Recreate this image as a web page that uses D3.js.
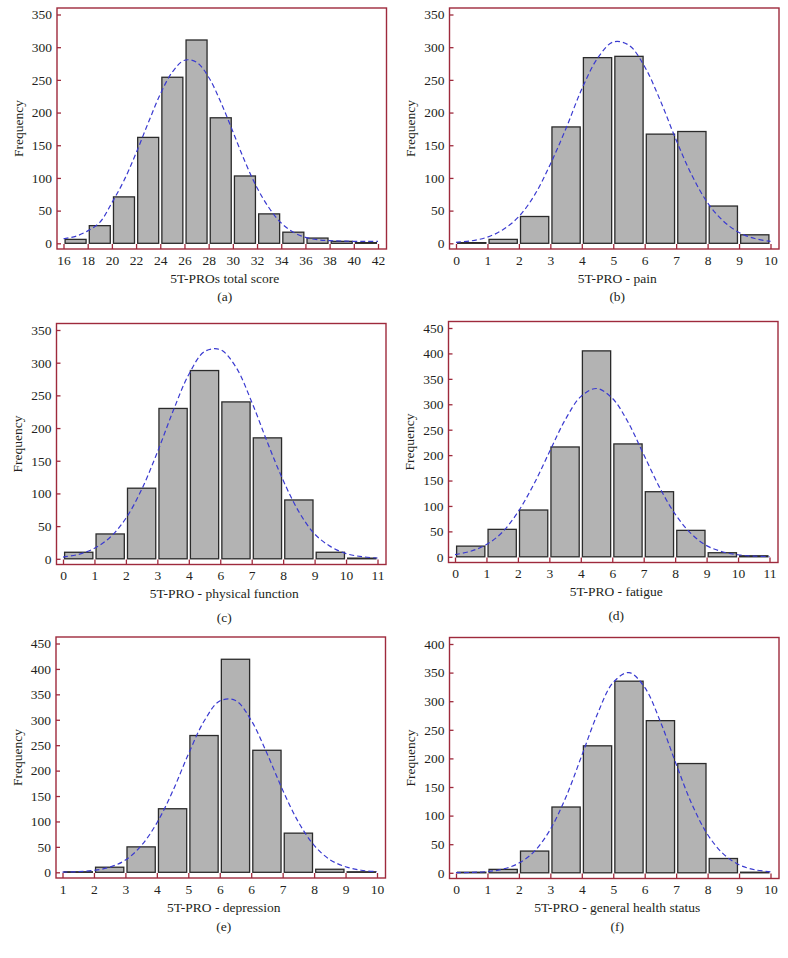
<!DOCTYPE html>
<html><head><meta charset="utf-8">
<script src="https://cdn.jsdelivr.net/npm/d3@7"></script>
<style>body{margin:0;background:#fff}svg{display:block}text{font-family:"Liberation Serif","DejaVu Serif",serif;fill:#231f20}</style>
</head><body><svg id="c" width="788" height="958"></svg>
<script>
// ---- data ----
const labelsA = ["16","18","20","22","24","26","28","30","32","34","36","38","40","42"];
const countsA = [6,27,71,162,254,311,192,103,45,17,8,3,1];
const curveA  = [7,10.6,19,32,62,96,138,184,228,262,280,277,254,216,171,125,85,54,31,17,9,5.5,4,3.5,3,3,3];

const labelsB = ["0","1","2","3","4","5","6","7","8","9","10"];
const countsB = [1,6,41,178,284,286,167,171,57,13];
const curveB  = [1.5,3.9,9.5,21,41,74,121,176,236,283,308,303,270,218,158,104,62,34,16.5,7.3,2.9];

const labelsC = ["0","1","2","3","4","6","7","8","9","10","11"];
const countsC = [10,38,108,230,288,240,185,90,10,1];
const curveC  = [2.6,6.8,16,33,62,106,163,226,282,317,320,293,240,178,120,72,38,19,8,3.3,1.2];

const labelsD = ["0","1","2","3","4","6","7","8","9","10","11"];
const countsD = [21,54,92,216,405,222,128,52,8,2];
const curveD  = [4.3,11,24,48,88,142,206,269,315,331,312,265,201,137,84,46,22,10,4,1.4,0.5];

const labelsE = ["1","2","3","4","5","6","6","7","8","9","10"];
const countsE = [1,10,50,125,269,419,240,77,6,1];
const curveE  = [0.4,1.2,3.8,10,24,52,97,159,232,297,337,338,299,234,162,99,53,25,11,4,1.3];

const labelsF = ["0","1","2","3","4","5","6","7","8","9","10"];
const countsF = [1,6,38,115,222,335,266,191,25,1];
const curveF  = [0.2,0.7,2.2,6.5,17,38,76,133,205,278,333,350,324,264,190,120,67,33,14,5.3,1.8];

const yMaxes = [350,350,350,450,450,400];
const xTitles = ["5T-PROs total score","5T-PRO - pain","5T-PRO - physical function","5T-PRO - fatigue","5T-PRO - depression","5T-PRO - general health status"];
const captions = ["(a)","(b)","(c)","(d)","(e)","(f)"];

// ---- layout ----
const panels = [
  {labels:labelsA, counts:countsA, curve:curveA, L:57,  T:8,   capDy:47},
  {labels:labelsB, counts:countsB, curve:curveB, L:449.5,T:8,  capDy:47},
  {labels:labelsC, counts:countsC, curve:curveC, L:56.5,T:323.5,capDy:53},
  {labels:labelsD, counts:countsD, curve:curveD, L:448.5,T:321.5,capDy:53},
  {labels:labelsE, counts:countsE, curve:curveE, L:56, T:637, capDy:48},
  {labels:labelsF, counts:countsF, curve:curveF, L:449.5,T:637.5,capDy:48}
];
const W = 329.5, H = 241;
const FS = 13.5;
const frameCol = "#9e2a3c";
const svg = d3.select("#c");

panels.forEach((p, k) => {
  const g = svg.append("g").attr("transform", `translate(${p.L},${p.T})`);
  const n = p.labels.length - 1;
  const x = d3.scaleLinear().domain([0, n]).range([6.5, W - 8.5]);
  const y = d3.scaleLinear().domain([0, yMaxes[k]]).range([H - 5.7, 6.5]);

  // bars
  g.selectAll("rect.bar").data(p.counts).join("rect")
    .attr("class","bar")
    .attr("x", (d,i) => x(i) + 1.6)
    .attr("width", (d,i) => x(i+1) - x(i) - 3.2)
    .attr("y", d => y(d))
    .attr("height", d => Math.max(0, y(0) - y(d)))
    .attr("fill", "#b3b3b3")
    .attr("stroke", "#2b2b2b")
    .attr("stroke-width", 1.3);

  // normal curve
  const line = d3.line()
    .x((d,i) => x(i * 0.5))
    .y(d => y(d))
    .curve(d3.curveCatmullRom.alpha(0.5));
  g.append("path").datum(p.curve)
    .attr("d", line)
    .attr("fill","none")
    .attr("stroke","#3a3ad0")
    .attr("stroke-width",1.2)
    .attr("stroke-dasharray","5,3");

  // frame
  g.append("rect").attr("x",0).attr("y",0).attr("width",W).attr("height",H)
    .attr("fill","none").attr("stroke",frameCol).attr("stroke-width",1.4);

  // x axis (ticks inward from bottom)
  const xAxis = d3.axisBottom(x).tickValues(d3.range(0, n + 1))
    .tickFormat(i => p.labels[i]).tickSize(-5).tickPadding(6);
  const xa = g.append("g").attr("transform", `translate(0,${H})`).call(xAxis);
  xa.select(".domain").remove();
  xa.selectAll("line").attr("stroke", frameCol).attr("stroke-width",1.3);
  xa.selectAll("text").attr("font-size", FS).style("font-family",'"Liberation Serif",serif').attr("fill","#231f20");

  // y axis (ticks inward from left)
  const yAxis = d3.axisLeft(y).tickValues(d3.range(0, yMaxes[k] + 1, 50)).tickSize(-4).tickPadding(5);
  const ya = g.append("g").call(yAxis);
  ya.select(".domain").remove();
  ya.selectAll("line").attr("stroke", frameCol).attr("stroke-width",1.3);
  ya.selectAll("text").attr("font-size", FS).style("font-family",'"Liberation Serif",serif').attr("fill","#231f20");

  // titles
  g.append("text").attr("x", W/2 + 3).attr("y", H + 29).attr("dy","0.35em")
    .attr("text-anchor","middle").attr("font-size",FS).text(xTitles[k]);
  g.append("text").attr("transform", `translate(-39,${H/2}) rotate(-90)`).attr("dy","0.35em")
    .attr("text-anchor","middle").attr("font-size",FS).text("Frequency");
  g.append("text").attr("x", W/2 + 3).attr("y", H + p.capDy).attr("dy","0.35em")
    .attr("text-anchor","middle").attr("font-size",FS).text(captions[k]);
});
</script></body></html>
